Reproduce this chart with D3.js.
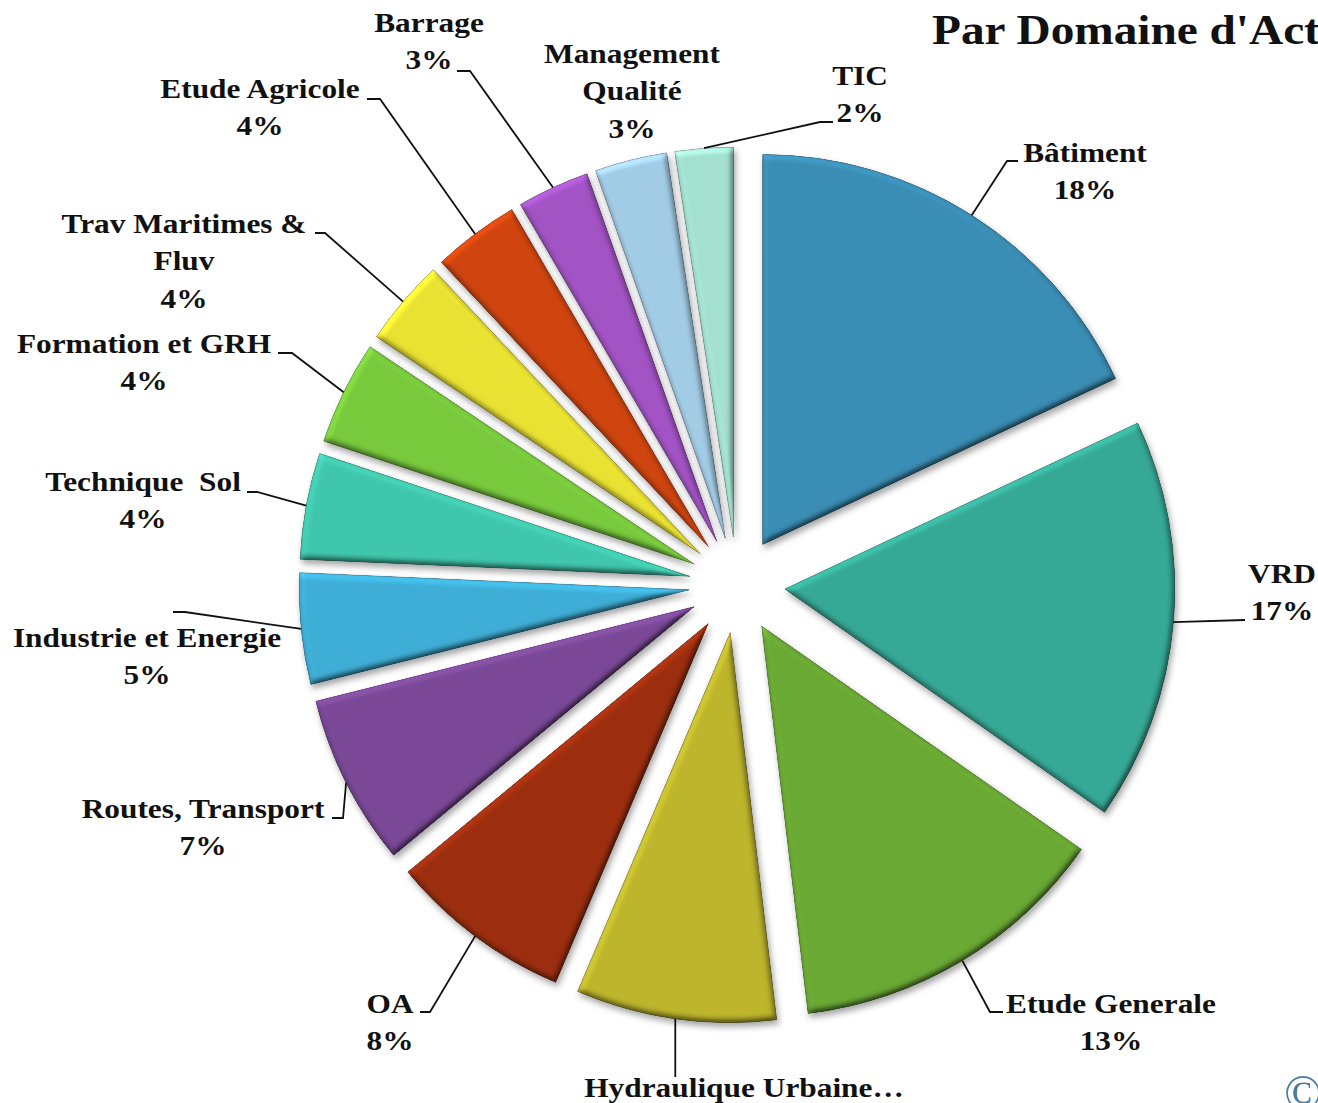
<!DOCTYPE html>
<html>
<head>
<meta charset="utf-8">
<script src="https://cdn.jsdelivr.net/npm/d3@7"></script>
<style>
  html, body { margin: 0; padding: 0; background: #ffffff; overflow: hidden; }
  svg { display: block; }
  text { font-family: "Liberation Serif", "Times New Roman", serif; font-weight: bold; fill: #111; }
</style>
</head>
<body>
<script>
// ---------- data ----------
const categories = ["Bâtiment", "VRD", "Etude Generale", "Hydraulique Urbaine", "OA",
  "Routes, Transport", "Industrie et Energie", "Technique  Sol", "Formation et GRH",
  "Trav Maritimes & Fluv", "Etude Agricole", "Barrage", "Management Qualité", "TIC"];
const values = [18.0, 16.7, 13.4, 8.3, 7.6, 7.1, 4.6, 4.4, 4.3, 3.6, 3.6, 3.0, 3.0, 2.4];
const colors = ["#3a8db4", "#36a996", "#6aa934", "#bdb52c", "#9c2e0f", "#7a4897", "#3eaed6",
  "#40c6ac", "#78c93c", "#eae232", "#cf440f", "#a253c4", "#a2cce6", "#a3e0d0"];
const title = "Par Domaine d'Activité";

// ---------- label layout (annotation placement) ----------
const labelLayout = [
  { x: 1085, y: 162, lines: ["Bâtiment"], leader: [[1018, 161], [1007, 161]] },
  { x: 1282, y: 583, lines: ["VRD"], leader: [[1245, 620]] },
  { x: 1111, y: 1013, lines: ["Etude Generale"], leader: [[1003, 1012], [990, 1012]] },
  { x: 744, y: 1097, lines: ["Hydraulique Urbaine…"], noPct: true, leader: "vertical", leaderEnd: 1077 },
  { x: 390, y: 1013, lines: ["OA"], leader: [[420, 1012], [430, 1012]] },
  { x: 203, y: 818, lines: ["Routes, Transport"], leader: [[332, 818], [343, 818]] },
  { x: 147, y: 647, lines: ["Industrie et Energie"], leader: [[173, 612], [185, 612]] },
  { x: 143, y: 491, lines: ["Technique  Sol"], leader: [[247, 492], [257, 492]] },
  { x: 144, y: 353, lines: ["Formation et GRH"], leader: [[278, 353], [292, 353]] },
  { x: 184, y: 233, lines: ["Trav Maritimes &", "Fluv"], leader: [[315, 233], [325, 233]] },
  { x: 260, y: 98, lines: ["Etude Agricole"], leader: [[367, 99], [380, 99]] },
  { x: 429, y: 32, lines: ["Barrage"], leader: [[457, 71], [470, 71]] },
  { x: 632, y: 63, lines: ["Management", "Qualité"], leader: null },
  { x: 860, y: 85, lines: ["TIC"], leader: [[833, 122], [820, 122]] }
];

const W = 1318, H = 1103;
const cx = 737, cy = 585, R = 390, EXPLODE = 48;
const FS = 28, LH = 37.5, SX = 1.12;

const data = categories.map((c, i) => ({ name: c, value: values[i], color: colors[i], layout: labelLayout[i] }));

const svg = d3.select("body").append("svg").attr("width", W).attr("height", H);
const defs = svg.append("defs");

const f = defs.append("filter").attr("id", "bevel")
  .attr("x", "-10%").attr("y", "-10%").attr("width", "125%").attr("height", "125%")
  .attr("color-interpolation-filters", "sRGB");
f.append("feGaussianBlur").attr("in", "SourceAlpha").attr("stdDeviation", 3).attr("result", "b");
const dl = f.append("feDiffuseLighting").attr("in", "b").attr("surfaceScale", 3)
  .attr("diffuseConstant", 0.9).attr("lighting-color", "#ffffff").attr("result", "light");
dl.append("feDistantLight").attr("azimuth", 240).attr("elevation", 60);
f.append("feComposite").attr("in", "SourceGraphic").attr("in2", "light")
  .attr("operator", "arithmetic").attr("k1", 1.28).attr("k2", 0).attr("k3", 0).attr("k4", 0).attr("result", "lit");
f.append("feComposite").attr("in", "lit").attr("in2", "SourceAlpha").attr("operator", "in").attr("result", "litc");
f.append("feGaussianBlur").attr("in", "SourceAlpha").attr("stdDeviation", 3).attr("result", "sb");
f.append("feOffset").attr("in", "sb").attr("dx", 2).attr("dy", 4).attr("result", "so");
f.append("feFlood").attr("flood-color", "#000").attr("flood-opacity", 0.35).attr("result", "fl");
f.append("feComposite").attr("in", "fl").attr("in2", "so").attr("operator", "in").attr("result", "shadow");
const fm = f.append("feMerge");
fm.append("feMergeNode").attr("in", "shadow");
fm.append("feMergeNode").attr("in", "litc");

const pie = d3.pie().sort(null).value(d => d.value).startAngle(0).endAngle(2 * Math.PI);
const arcGen = d3.arc().innerRadius(0).outerRadius(R);
const arcs = pie(data);

arcs.forEach(a => {
  a.mid = (a.startAngle + a.endAngle) / 2;
  a.ox = cx + EXPLODE * Math.sin(a.mid);
  a.oy = cy - EXPLODE * Math.cos(a.mid);
  a.edge = [a.ox + R * Math.sin(a.mid), a.oy - R * Math.cos(a.mid)];
});

// slices
svg.append("g").selectAll("path").data(arcs).join("path")
  .attr("transform", a => `translate(${a.ox},${a.oy})`)
  .attr("d", arcGen)
  .attr("fill", a => a.data.color)
  .attr("stroke", a => d3.color(a.data.color).darker(0.8))
  .attr("stroke-width", 0.8)
  .attr("filter", "url(#bevel)");

// leader lines
const line = d3.line();
svg.append("g").selectAll("path").data(arcs.filter(a => a.data.layout.leader)).join("path")
  .attr("d", a => {
    const L = a.data.layout;
    if (L.leader === "vertical") return line([[a.edge[0], L.leaderEnd], a.edge]);
    return line([...L.leader, a.edge]);
  })
  .attr("fill", "none").attr("stroke", "#111").attr("stroke-width", 1.8);

// labels
const pct = v => Math.round(v) + "%";
const lg = svg.append("g").selectAll("text").data(arcs).join("text")
  .attr("transform", a => `translate(${a.data.layout.x},${a.data.layout.y}) scale(${SX},1)`)
  .attr("text-anchor", "middle")
  .style("font-size", FS + "px")
  .style("white-space", "pre");
lg.each(function (a) {
  const L = a.data.layout;
  const lines = L.noPct ? L.lines : [...L.lines, pct(a.data.value)];
  d3.select(this).selectAll("tspan").data(lines).join("tspan")
    .attr("x", 0).attr("y", (d, i) => i * LH).text(d => d);
});

// title
svg.append("text")
  .attr("transform", `translate(932,44) scale(1.1,1)`)
  .style("font-size", "43px")
  .text(title);

// copyright mark
svg.append("text")
  .attr("x", 1284).attr("y", 1110)
  .style("font-size", "50px").style("font-weight", "normal").style("fill", "#4d7b9c")
  .text("©");
</script>
</body>
</html>
